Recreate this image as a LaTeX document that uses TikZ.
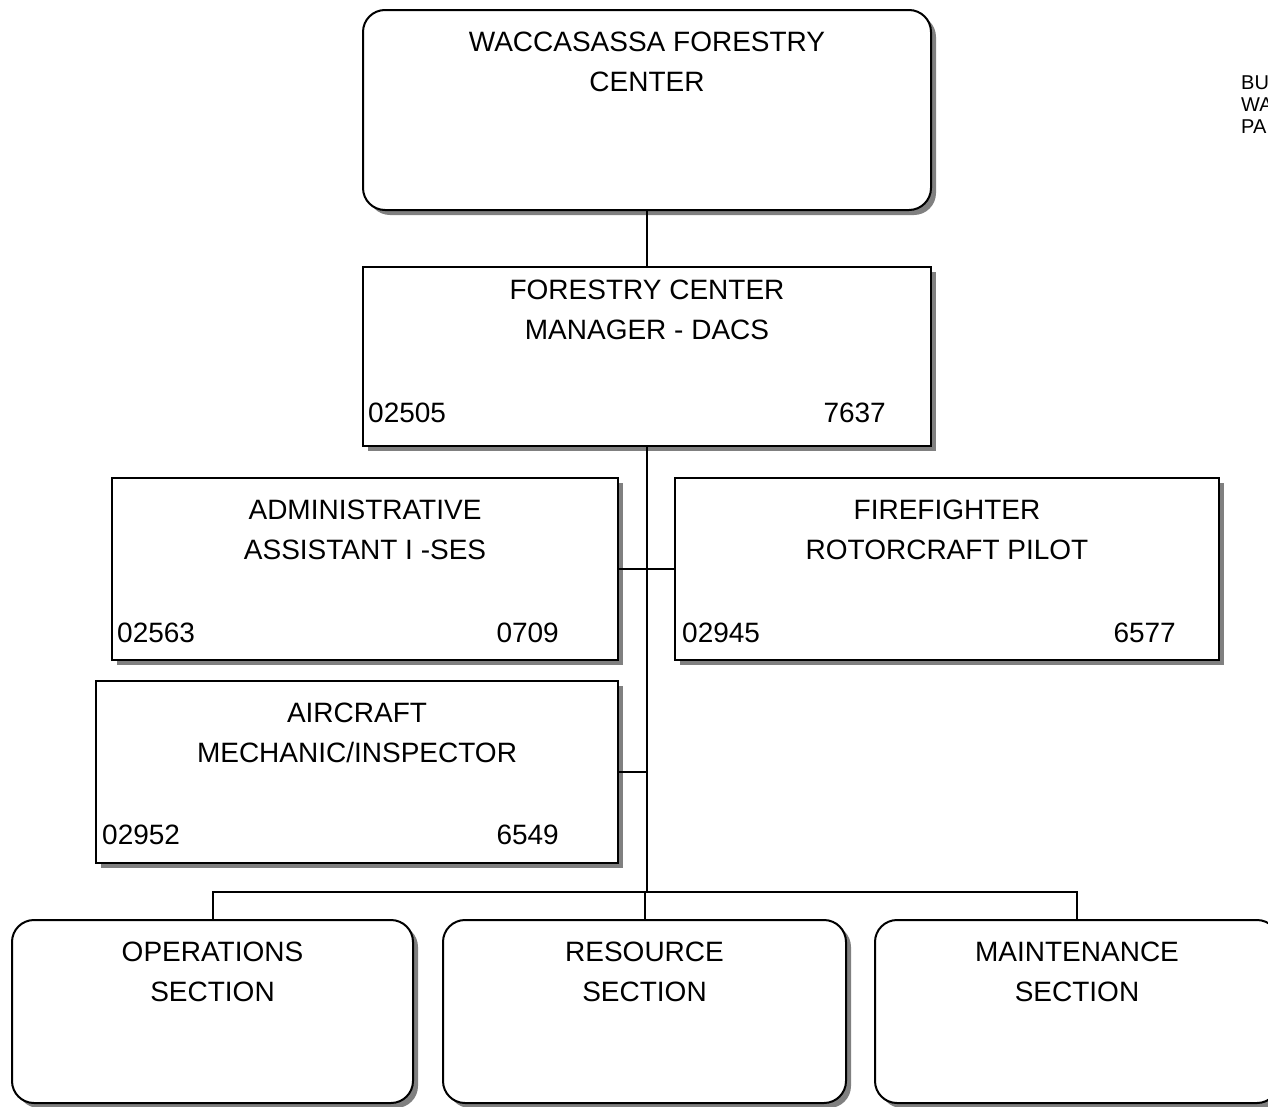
\documentclass[tikz,border=0pt]{standalone}
\usepackage{fontspec}
\setmainfont{Liberation Sans}
\usetikzlibrary{shadows}

\newcommand{\bigtxt}{\fontsize{28}{40}\selectfont}
\newcommand{\smalltxt}{\fontsize{20}{22}\selectfont}

\tikzset{
  box/.style={draw, line width=2pt, fill=white, inner sep=0pt,
    drop shadow={shadow xshift=5pt, shadow yshift=-5pt, fill=gray, opacity=1}},
  roundbox/.style={box, rounded corners=22pt},
  title/.style={anchor=north, align=center, inner sep=0pt, font=\bigtxt},
  num/.style={inner sep=0pt, font=\bigtxt},
  link/.style={line width=2pt}
}

\begin{document}
\begin{tikzpicture}[x=1pt, y=-1pt]
\useasboundingbox (0,0) rectangle (1268,1106);
% top of the chart
\draw (647,110) node (wfc) [roundbox, minimum width=568pt, minimum height=200pt,
  label={[title, yshift=-23pt]north:{WACCASASSA FORESTRY\\CENTER}}] {};
\draw (1241,76) node (bu) [anchor=north west, align=left, inner sep=0pt, font=\smalltxt] {BU\\WA\\PA};
\draw (647,356.5) node (mgr) [box, minimum width=568pt, minimum height=179pt,
  label={[title, yshift=-14pt]north:{FORESTRY CENTER\\MANAGER - DACS}},
  label={[num, anchor=south west, xshift=6pt, yshift=24pt]south west:02505},
  label={[num, anchor=south east, xshift=-46pt, yshift=24pt]south east:7637}] {};
\draw (wfc) -- (mgr) [link];
% staff positions
\draw (365,569) node (admin) [box, minimum width=506pt, minimum height=182pt,
  label={[title, yshift=-23pt]north:{ADMINISTRATIVE\\ASSISTANT I -SES}},
  label={[num, anchor=south west, xshift=6pt, yshift=18pt]south west:02563},
  label={[num, anchor=south east, xshift=-60pt, yshift=18pt]south east:0709}] {};
\draw (947,569) node (pilot) [box, minimum width=544pt, minimum height=182pt,
  label={[title, yshift=-23pt]north:{FIREFIGHTER\\ROTORCRAFT PILOT}},
  label={[num, anchor=south west, xshift=8pt, yshift=18pt]south west:02945},
  label={[num, anchor=south east, xshift=-44pt, yshift=18pt]south east:6577}] {};
\draw (357,772) node (mech) [box, minimum width=522pt, minimum height=182pt,
  label={[title, yshift=-23pt]north:{AIRCRAFT\\MECHANIC/INSPECTOR}},
  label={[num, anchor=south west, xshift=7pt, yshift=19pt]south west:02952},
  label={[num, anchor=south east, xshift=-60pt, yshift=19pt]south east:6549}] {};
\coordinate (bus) at (647,892);
\draw [link] (mgr) -- (bus);
\draw [link] (admin.east) -- (pilot.west);
\draw [link] (mech.east) -- (mech.east -| bus);
% sections
\draw (212.5,1011.5) node (ops) [roundbox, minimum width=401pt, minimum height=183pt,
  label={[title, yshift=-23pt]north:{OPERATIONS\\SECTION}}] {};
\draw (644.5,1011.5) node (res) [roundbox, minimum width=403pt, minimum height=183pt,
  label={[title, yshift=-23pt]north:{RESOURCE\\SECTION}}] {};
\draw (1077,1011.5) node (maint) [roundbox, minimum width=404pt, minimum height=183pt,
  label={[title, yshift=-23pt]north:{MAINTENANCE\\SECTION}}] {};
\draw [link] (ops) |- (bus);
\draw [link] (maint) |- (bus);
\draw [link] (res) -- (res |- bus);
\end{tikzpicture}
\end{document}
